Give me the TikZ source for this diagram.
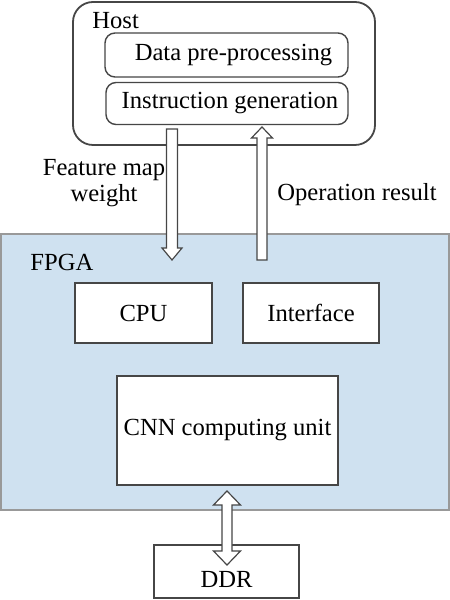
\documentclass[tikz,border=0pt]{standalone}
\usepackage{fontspec}
\setmainfont{Liberation Serif}
\usetikzlibrary{calc}
\definecolor{fpgablue}{RGB}{207,225,240}
\definecolor{edgegray}{RGB}{70,70,70}

\begin{document}
\begin{tikzpicture}[
  x=1pt, y=1pt,
  font=\fontsize{12.3}{13}\selectfont,
  box/.style={rectangle, draw=edgegray, line width=0.7pt, fill=white, inner sep=0pt},
  inbox/.style={box, rounded corners=5pt},
  lbl/.style={inner sep=0pt, align=center},
  fatdown/.style={draw=edgegray, fill=white, line width=0.6pt, to path={
    let \p1=(\tikztostart), \p2=(\tikztotarget) in
    ({\x1-2.75pt},{\y1}) -- ({\x1-2.75pt},{\y2+6pt}) -- ({\x1-5pt},{\y2+6pt}) -- (\x1,\y2)
    -- ({\x1+5pt},{\y2+6pt}) -- ({\x1+2.75pt},{\y2+6pt}) -- ({\x1+2.75pt},{\y1}) -- cycle}},
  fatup/.style={draw=edgegray, fill=white, line width=0.6pt, to path={
    let \p1=(\tikztostart), \p2=(\tikztotarget) in
    ({\x1-2.5pt},{\y1}) -- ({\x1-2.5pt},{\y2-5.5pt}) -- ({\x1-5.25pt},{\y2-5.5pt}) -- (\x1,\y2)
    -- ({\x1+5.25pt},{\y2-5.5pt}) -- ({\x1+2.5pt},{\y2-5.5pt}) -- ({\x1+2.5pt},{\y1}) -- cycle}},
  fatboth/.style={draw=edgegray, fill=white, line width=0.6pt, to path={
    let \p1=(\tikztostart), \p2=(\tikztotarget) in
    (\x1,\y1) -- ({\x1+6.75pt},{\y1-7pt}) -- ({\x1+2.5pt},{\y1-7pt}) -- ({\x1+2.5pt},{\y2+7pt})
    -- ({\x1+6.75pt},{\y2+7pt}) -- (\x1,\y2) -- ({\x1-6.75pt},{\y2+7pt}) -- ({\x1-2.5pt},{\y2+7pt})
    -- ({\x1-2.5pt},{\y1-7pt}) -- ({\x1-6.75pt},{\y1-7pt}) -- cycle}},
]
  \useasboundingbox (0,0) rectangle (225,300);

  % Host
  \node[box, rounded corners=10pt, line width=0.9pt, minimum width=151pt, minimum height=71.5pt] (host) at (112,263.25) {};
  \node[lbl, anchor=west] (hostlbl) at (46,289.5) {Host};
  \node[inbox, minimum width=121.5pt, minimum height=22pt] (prep) at (113.25,272.5) {\hspace*{7pt}Data pre-processing};
  \node[inbox, minimum width=121pt, minimum height=21pt] (inst) at (113.5,248.25) {\hspace*{3pt}Instruction generation};

  % FPGA
  \node[rectangle, draw=gray!80, line width=0.7pt, fill=fpgablue, minimum width=224pt, minimum height=138pt, inner sep=0pt] (fpga) at (112.5,114) {};
  \node[lbl, anchor=west] (fpgalbl) at (15,169) {FPGA};
  \node[box, minimum width=68.5pt, minimum height=30pt] (cpu) at (71.75,143.5) {CPU};
  \node[box, minimum width=68pt, minimum height=30pt] (iface) at (155.5,143.5) {Interface};
  \node[box, minimum width=110.5pt, minimum height=54.5pt] (cnn) at (113.75,84.75) {CNN computing unit};

  % DDR
  \node[box, minimum width=72.5pt, minimum height=26.5pt] (ddr) at (113.25,14.25) {\raisebox{-4pt}[\height][\depth]{DDR}};

  % arrows
  \coordinate (fmtop) at (86,235.5);
  \coordinate (fmtip) at (86,170);
  \coordinate (resbot) at (131,170);
  \coordinate (restip) at (131,236.5);
  \coordinate (cnnend) at (113.5,54.5);
  \coordinate (ddrend) at (113.5,17.5);
  \draw[fatdown] (fmtop) to (fmtip);
  \draw[fatup] (resbot) to (restip);
  \draw[fatboth] (cnnend) to (ddrend);

  \node[lbl] (fmlbl) at (52,208.5) {Feature map\\weight};
  \node[lbl, anchor=west] (reslbl) at (138.5,202.5) {Operation result};
\end{tikzpicture}
\end{document}
